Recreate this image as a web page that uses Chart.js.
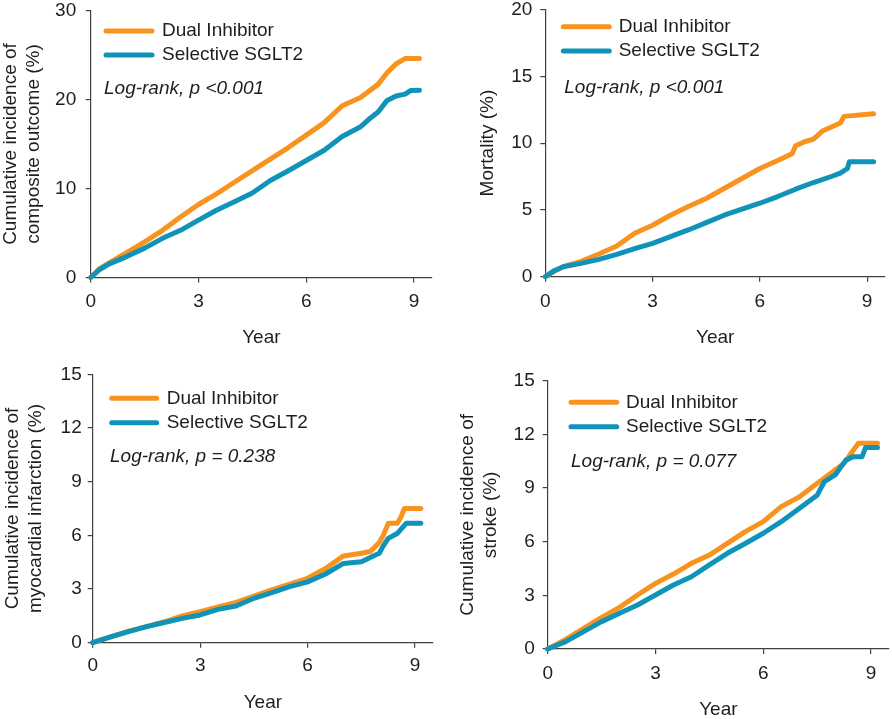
<!DOCTYPE html>
<html>
<head>
<meta charset="utf-8">
<script src="https://cdn.jsdelivr.net/npm/chart.js@4/dist/chart.umd.min.js"></script>
<style>
  html, body { margin: 0; padding: 0; background: #fff; overflow: hidden; }
  #wrap { position: relative; width: 892px; height: 719px; overflow: hidden; }
  canvas { position: absolute; left: -20px; top: -20px; }
</style>
</head>
<body>
<div id="wrap"></div>
<script>
'use strict';

// series / tick data
const seriesNames = ['Dual Inhibitor', 'Selective SGLT2'];
const xTicks = [0, 3, 6, 9];

const compYearsDual = [0, 0.25, 0.5, 1, 1.5, 2, 2.5, 3, 3.5, 4, 4.5, 5, 5.5, 6, 6.5, 7, 7.5, 8, 8.25, 8.5, 8.75, 9.15];
const compDual = [0, 1.0, 1.6, 2.8, 4.0, 5.3, 6.8, 8.2, 9.4, 10.7, 12.0, 13.3, 14.6, 16.0, 17.4, 19.3, 20.2, 21.7, 23.0, 24.0, 24.6, 24.6];
const compYearsSel = [0, 0.25, 0.5, 1, 1.5, 2, 2.5, 3, 3.5, 4, 4.5, 5, 5.5, 6, 6.5, 7, 7.5, 7.75, 8, 8.25, 8.5, 8.75, 8.9, 9.15];
const compSel = [0, 0.9, 1.5, 2.35, 3.3, 4.4, 5.3, 6.45, 7.55, 8.5, 9.5, 10.9, 12.0, 13.15, 14.3, 15.85, 16.9, 17.8, 18.6, 19.9, 20.4, 20.6, 21.0, 21.05];
const compTicks = [0, 10, 20, 30];

const mortYearsDual = [0, 0.25, 0.5, 1, 1.5, 2, 2.5, 3, 3.5, 4, 4.5, 5, 5.5, 6, 6.5, 6.9, 7, 7.25, 7.5, 7.75, 8, 8.25, 8.35, 9.18];
const mortDual = [0, 0.4, 0.75, 1.15, 1.7, 2.3, 3.25, 3.85, 4.6, 5.25, 5.85, 6.6, 7.35, 8.1, 8.7, 9.2, 9.8, 10.1, 10.3, 10.9, 11.2, 11.5, 12.0, 12.2];
const mortYearsSel = [0, 0.25, 0.5, 1, 1.5, 2, 2.5, 3, 3.5, 4, 4.5, 5, 5.5, 6, 6.5, 7, 7.5, 8, 8.25, 8.45, 8.5, 9.18];
const mortSel = [0, 0.45, 0.75, 1.0, 1.3, 1.67, 2.1, 2.5, 3.0, 3.5, 4.05, 4.6, 5.05, 5.5, 6.0, 6.55, 7.05, 7.5, 7.75, 8.1, 8.6, 8.6];
const mortTicks = [0, 5, 10, 15, 20];

const miYearsDual = [0, 0.5, 1, 1.5, 2, 2.5, 3, 3.5, 4, 4.5, 5, 5.5, 6, 6.5, 7, 7.5, 7.75, 8, 8.1, 8.25, 8.5, 8.6, 8.7, 9.16];
const miDual = [0, 0.33, 0.65, 0.9, 1.17, 1.5, 1.73, 2.0, 2.25, 2.6, 2.95, 3.28, 3.6, 4.15, 4.85, 5.0, 5.1, 5.6, 5.95, 6.67, 6.67, 7.0, 7.5, 7.5];
const miYearsSel = [0, 0.5, 1, 1.5, 2, 2.5, 3, 3.5, 4, 4.5, 5, 5.5, 6, 6.5, 7, 7.5, 8, 8.1, 8.25, 8.5, 8.75, 9.16];
const miSel = [0, 0.33, 0.62, 0.9, 1.13, 1.36, 1.55, 1.86, 2.05, 2.48, 2.8, 3.13, 3.4, 3.84, 4.43, 4.53, 5.0, 5.37, 5.83, 6.1, 6.67, 6.67];
const miTicks = [0, 3, 6, 9, 12, 15];

const strokeYearsDual = [0, 0.5, 1, 1.5, 2, 2.5, 3, 3.5, 4, 4.5, 5, 5.5, 6, 6.5, 7, 7.5, 8, 8.25, 8.5, 8.65, 9.18];
const strokeDual = [0, 0.54, 1.15, 1.77, 2.33, 3.02, 3.67, 4.19, 4.79, 5.25, 5.9, 6.56, 7.12, 7.96, 8.5, 9.26, 10.0, 10.38, 11.1, 11.5, 11.5];
const strokeYearsSel = [0, 0.5, 1, 1.5, 2, 2.5, 3, 3.5, 4, 4.5, 5, 5.5, 6, 6.5, 7, 7.5, 7.7, 8, 8.3, 8.5, 8.75, 8.85, 9.18];
const strokeSel = [0, 0.41, 0.97, 1.53, 2.0, 2.46, 3.02, 3.58, 4.04, 4.7, 5.35, 5.9, 6.47, 7.12, 7.86, 8.6, 9.35, 9.73, 10.56, 10.75, 10.75, 11.27, 11.27];
const strokeTicks = [0, 3, 6, 9, 12, 15];

const ORANGE = '#F8931F';
const TEAL = '#0F93B8';
const AXIS = '#404040';
const TEXT = '#1e1e1e';
const FONT = "'Liberation Sans', Arial, Helvetica, sans-serif";
const OFF = 20;      // canvas is shifted -20px so the top labels have room
const W = 932, H = 759;
const LH = 22.8;     // 19px * 1.2
const LINE_W = 5;

function pts(xs, ys) {
    return xs.map((x, i) => ({ x: x, y: ys[i] }));
}

// layout of each panel, in page pixels
const panels = [
    {
        title: ['Cumulative incidence of', 'composite outcome (%)'], titleX: 10.8,
        left: 90.7, right: 432, top: 10.5, bottom: 277.5, yearY: 338, yPad: 9.5, xPad: 8,
        yMax: 30, yTicks: compTicks,
        dual: pts(compYearsDual, compDual), sel: pts(compYearsSel, compSel),
        legend: { x0: 106, x1: 152, textX: 162, rows: [31, 55], note: 'Log-rank, p <0.001', noteX: 104, noteY: 89 }
    },
    {
        title: 'Mortality (%)', titleX: 487.7,
        left: 545.3, right: 885, top: 9.5, bottom: 276.7, yearY: 338, yPad: 8, xPad: 8.5,
        yMax: 20, yTicks: mortTicks,
        dual: pts(mortYearsDual, mortDual), sel: pts(mortYearsSel, mortSel),
        legend: { x0: 563.3, x1: 609.3, textX: 618.7, rows: [26.7, 51], note: 'Log-rank, p <0.001', noteX: 564.3, noteY: 87.3 }
    },
    {
        title: ['Cumulative incidence of', 'myocardial infarction (%)'], titleX: 12.5,
        left: 92.7, right: 433, top: 374.3, bottom: 642.7, yearY: 702.7, yPad: 6, xPad: 7,
        yMax: 15, yTicks: miTicks,
        dual: pts(miYearsDual, miDual), sel: pts(miYearsSel, miSel),
        legend: { x0: 111.7, x1: 156.7, textX: 166.7, rows: [398.3, 422.7], note: 'Log-rank, p = 0.238', noteX: 110, noteY: 456.7 }
    },
    {
        title: ['Cumulative incidence of', 'stroke (%)'], titleX: 467.7,
        left: 547.7, right: 889, top: 380.7, bottom: 649, yearY: 710, yPad: 8, xPad: 8,
        yMax: 15, yTicks: strokeTicks,
        dual: pts(strokeYearsDual, strokeDual), sel: pts(strokeYearsSel, strokeSel),
        legend: { x0: 571, x1: 616.7, textX: 626, rows: [402.3, 426.7], note: 'Log-rank, p = 0.077', noteX: 571, noteY: 461.7 }
    }
];

const panelText = {
    id: 'panelText',
    afterDraw(chart, args, opts) {
        const ctx = chart.ctx;
        const colors = [ORANGE, TEAL];
        ctx.save();
        ctx.lineCap = 'round';
        ctx.lineWidth = LINE_W;
        ctx.textBaseline = 'middle';
        ctx.textAlign = 'left';
        ctx.fillStyle = TEXT;
        ctx.font = '19px ' + FONT;
        seriesNames.forEach((name, i) => {
            const y = opts.rows[i] + OFF;
            ctx.strokeStyle = colors[i];
            ctx.beginPath();
            ctx.moveTo(opts.x0 + OFF, y);
            ctx.lineTo(opts.x1 + OFF, y);
            ctx.stroke();
            ctx.fillText(name, opts.textX + OFF, y);
        });
        ctx.font = 'italic 19px ' + FONT;
        ctx.fillText(opts.note, opts.noteX + OFF, opts.noteY + OFF);
        ctx.restore();
    }
};

const wrap = document.getElementById('wrap');

panels.forEach(p => {
    const canvas = document.createElement('canvas');
    canvas.width = W;
    canvas.height = H;
    canvas.style.width = W + 'px';
    canvas.style.height = H + 'px';
    wrap.appendChild(canvas);

    const padLeft = p.titleX - LH / 2 + OFF;
    const yWidth = p.left + OFF - padLeft;
    const scaleBottom = p.yearY + LH / 2 + OFF;
    const xHeight = scaleBottom - (p.bottom + OFF);

    new Chart(canvas, {
        type: 'line',
        data: {
            datasets: [
                {
                    label: seriesNames[0],
                    data: p.dual,
                    borderColor: ORANGE,
                    borderWidth: LINE_W,
                    order: 1
                },
                {
                    label: seriesNames[1],
                    data: p.sel,
                    borderColor: TEAL,
                    borderWidth: LINE_W,
                    order: 0
                }
            ]
        },
        options: {
            responsive: false,
            animation: false,
            devicePixelRatio: 1,
            layout: {
                padding: {
                    left: padLeft,
                    top: p.top + OFF,
                    right: W - (p.right + OFF),
                    bottom: H - scaleBottom
                }
            },
            elements: {
                point: { radius: 0 },
                line: { tension: 0, borderCapStyle: 'round', borderJoinStyle: 'round', fill: false }
            },
            datasets: { line: { clip: false } },
            plugins: {
                legend: { display: false },
                tooltip: { enabled: false },
                panelText: p.legend
            },
            scales: {
                x: {
                    type: 'linear',
                    min: 0,
                    max: 9.5,
                    afterBuildTicks: scale => { scale.ticks = xTicks.map(v => ({ value: v })); },
                    afterFit: scale => { scale.height = xHeight; },
                    grid: { display: true, drawOnChartArea: false, drawTicks: true, tickLength: 5, color: AXIS, lineWidth: 1.2 },
                    border: { display: true, color: AXIS, width: 1.2 },
                    ticks: { color: TEXT, font: { family: FONT, size: 19 }, padding: p.xPad, maxRotation: 0 },
                    title: { display: true, text: 'Year', color: TEXT, font: { family: FONT, size: 19, lineHeight: 1.2 }, padding: 0 }
                },
                y: {
                    type: 'linear',
                    min: 0,
                    max: p.yMax,
                    afterBuildTicks: scale => { scale.ticks = p.yTicks.map(v => ({ value: v })); },
                    afterFit: scale => { scale.width = yWidth; },
                    grid: { display: true, drawOnChartArea: false, drawTicks: true, tickLength: 5, color: AXIS, lineWidth: 1.2 },
                    border: { display: true, color: AXIS, width: 1.2 },
                    ticks: { color: TEXT, font: { family: FONT, size: 19 }, padding: p.yPad },
                    title: { display: true, text: p.title, color: TEXT, font: { family: FONT, size: 19, lineHeight: 1.2 }, padding: 0 }
                }
            }
        },
        plugins: [panelText]
    });
});
</script>
</body>
</html>
